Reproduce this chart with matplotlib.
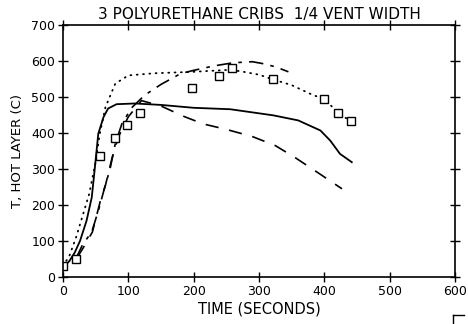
import matplotlib
matplotlib.use("Agg")
import matplotlib.pyplot as plt
from matplotlib.lines import Line2D

# Measured data (squares)
meas_t = [0, 20, 57, 79, 98, 118, 198, 239, 258, 321, 400, 421, 441]
meas_T = [30, 49, 337, 387, 421, 456, 525, 559, 581, 549, 495, 456, 432]

# Solid model
solid_t = [0, 10, 18, 26, 36, 44, 48, 54, 62, 69, 82, 110, 150, 200, 256, 322, 360, 394, 409, 424, 442]
solid_T = [25, 45, 68, 100, 156, 221, 290, 398, 444, 468, 480, 482, 478, 470, 466, 449, 435, 407, 379, 342, 319]

# Dotted model
dot_t = [0, 10, 20, 30, 40, 50, 56, 65, 80, 100, 140, 200, 250, 270, 300, 321, 350, 383, 400, 421, 441]
dot_T = [30, 60, 110, 170, 230, 320, 395, 472, 537, 560, 566, 570, 575, 572, 562, 549, 533, 505, 495, 456, 432]

# Dash-dot model
dd_t = [20, 30, 44, 55, 64, 72, 80, 90, 105, 125, 150, 180, 200, 230, 260, 290, 305, 325, 345]
dd_T = [52, 90, 125, 190, 250, 300, 370, 425, 470, 505, 535, 565, 574, 586, 595, 598, 593, 584, 570]

# Dashed model
dash_t = [22, 30, 45, 57, 65, 75, 85, 100, 120, 150, 185, 215, 250, 290, 325, 355, 390, 427]
dash_T = [55, 78, 125, 210, 255, 330, 390, 445, 490, 475, 446, 425, 410, 390, 365, 332, 290, 245]

xticks = [0, 100, 200, 300, 400, 500, 600]
yticks = [0, 100, 200, 300, 400, 500, 600, 700]

plt.rcParams['font.family'] = ['DejaVu Sans']
fig = plt.figure(figsize=(4.68, 3.24), dpi=100)
ax = fig.add_axes([63/468, 1-277/324, (455-63)/468, (277-25)/324])

k = 0.72
ax.plot(solid_t, solid_T, color='black', lw=1.3)
ax.plot(dot_t, dot_T, color='black', lw=1.3, linestyle=(0, (0.5, 3.0)), dash_capstyle='round')
ax.plot(dd_t, dd_T, color='black', lw=1.2, linestyle=(0, (12*k, 6*k, 3*k, 6*k)))
ax.plot(dash_t, dash_T, color='black', lw=1.2, linestyle=(0, (11*k, 9*k)))
ax.plot(meas_t, meas_T, linestyle='none', marker='s', markersize=6,
        markerfacecolor='white', markeredgecolor='black', markeredgewidth=1.0)

ax.set_xlim(0, 600)
ax.set_ylim(0, 700)
ax.set_xticks(xticks)
ax.set_yticks(yticks)
ax.tick_params(direction='inout', length=7, width=1, top=True, right=True,
               labelsize=9, pad=2)
for s in ax.spines.values():
    s.set_linewidth(1.2)

ax.set_title('3 POLYURETHANE CRIBS  1/4 VENT WIDTH', fontsize=11, pad=4)
ax.set_xlabel('TIME (SECONDS)', fontsize=10.5, labelpad=3)
ax.set_ylabel('T, HOT LAYER (C)', fontsize=9.5, labelpad=5)

# small corner mark at bottom right
fig.add_artist(Line2D([453/468, 464/468], [1-315/324, 1-315/324], color='black', lw=1.0))
fig.add_artist(Line2D([453/468, 453/468], [1-315/324, 1-323/324], color='black', lw=1.0))

fig.savefig('out.png', dpi=100)
